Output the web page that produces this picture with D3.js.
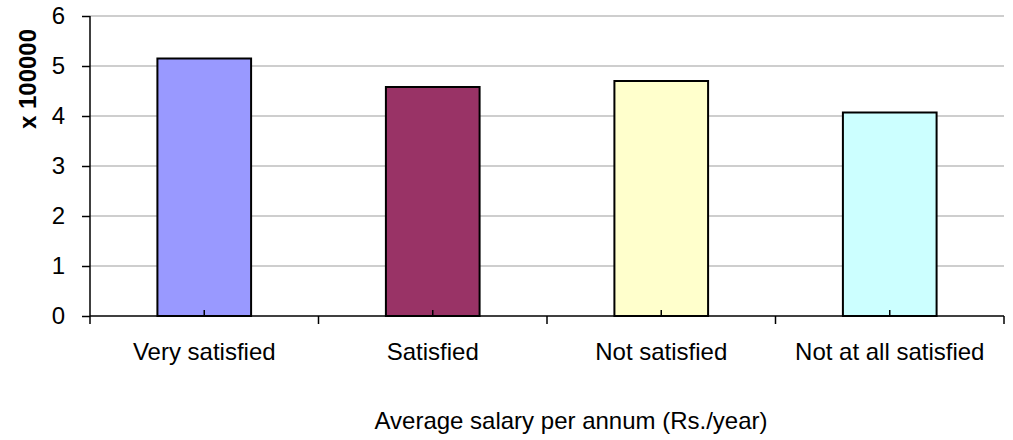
<html>
<head>
  <script src="https://d3js.org/d3.v7.min.js"></script>
  <style>
    body { margin: 0; background: #fff; }
    text { font-family: "Liberation Sans", Arial, sans-serif; }
  </style>
</head>
<body>
<svg id="chart"></svg>
<script type="text/javascript">
    // chart data
    var categories = ["Very satisfied", "Satisfied", "Not satisfied", "Not at all satisfied"];
    var salaries = [5.15, 4.58, 4.70, 4.07];
    var barColors = ["#9999ff", "#993366", "#ffffcc", "#ccffff"];
    var yTicks = [0, 1, 2, 3, 4, 5, 6];
    var yLabel = "x 100000";
    var xLabel = "Average salary per annum (Rs./year)";

    var w = 1013;
    var h = 440;
    var padLeft = 90, padRight = 1004, padTop = 16, padBottom = 316;
    var fontSize = "24px";

    var svg = d3.select("#chart")
        .attr("width", w)
        .attr("height", h);

    var xScale = d3.scaleBand()
        .domain(categories)
        .range([padLeft, padRight])
        .padding(0);

    var yScale = d3.scaleLinear()
        .domain([0, 6])
        .range([padBottom, padTop]);

    // gridlines
    svg.append("g")
        .selectAll("line")
        .data(yTicks.filter(function (d) { return d > 0; }))
        .enter()
        .append("line")
        .attr("x1", padLeft)
        .attr("x2", padRight)
        .attr("y1", function (d) { return yScale(d); })
        .attr("y2", function (d) { return yScale(d); })
        .attr("stroke", "#bebebe")
        .attr("stroke-width", 1.5);

    // bars
    var barW = xScale.bandwidth() * 0.41;
    svg.append("g")
        .selectAll("rect")
        .data(salaries)
        .enter()
        .append("rect")
        .attr("x", function (d, i) { return xScale(categories[i]) + (xScale.bandwidth() - barW) / 2; })
        .attr("y", function (d) { return yScale(d); })
        .attr("width", barW)
        .attr("height", function (d) { return yScale(0) - yScale(d); })
        .attr("fill", function (d, i) { return barColors[i]; })
        .attr("stroke", "#000")
        .attr("stroke-width", 2);

    // Y axis
    var yAxis = d3.axisLeft(yScale)
        .tickValues(yTicks)
        .tickFormat(d3.format("d"))
        .tickSize(8)
        .tickPadding(17)
        .tickSizeOuter(0);
    var gy = svg.append("g")
        .attr("transform", "translate(" + padLeft + ",0)")
        .call(yAxis);
    gy.select(".domain").remove();
    gy.selectAll("text").attr("font-size", fontSize).attr("font-family", "Liberation Sans, Arial, sans-serif").attr("fill", "#000");
    gy.selectAll("line").attr("stroke", "#000").attr("stroke-width", 1.5);

    // X axis with inner ticks at category centres
    var xAxis = d3.axisBottom(xScale)
        .tickSize(-6)
        .tickSizeOuter(0)
        .tickPadding(27);
    var gx = svg.append("g")
        .attr("transform", "translate(0," + padBottom + ")")
        .call(xAxis);
    gx.select(".domain").remove();
    gx.selectAll("text").attr("font-size", fontSize).attr("font-family", "Liberation Sans, Arial, sans-serif").attr("fill", "#000");
    gx.selectAll("line").attr("stroke", "#000").attr("stroke-width", 1.5);

    // boundary ticks between categories
    var bounds = categories.map(function (c) { return xScale(c); }).concat([padRight]);
    svg.append("g")
        .selectAll("line")
        .data(bounds)
        .enter()
        .append("line")
        .attr("x1", function (d) { return d; })
        .attr("x2", function (d) { return d; })
        .attr("y1", padBottom)
        .attr("y2", padBottom + 8)
        .attr("stroke", "#000")
        .attr("stroke-width", 1.5);

    // axis lines
    svg.append("line")
        .attr("x1", padLeft).attr("x2", padLeft)
        .attr("y1", padTop).attr("y2", padBottom)
        .attr("stroke", "#000").attr("stroke-width", 1.5);
    svg.append("line")
        .attr("x1", padLeft).attr("x2", padRight)
        .attr("y1", padBottom).attr("y2", padBottom)
        .attr("stroke", "#000").attr("stroke-width", 1.5);

    // axis titles
    svg.append("text")
        .attr("text-anchor", "middle")
        .attr("transform", "translate(36,79)rotate(-90)")
        .text(yLabel)
        .style("font-weight", "bold")
        .attr("font-size", fontSize);

    svg.append("text")
        .attr("text-anchor", "middle")
        .attr("x", 571)
        .attr("y", 429)
        .text(xLabel)
        .attr("font-size", fontSize);
</script>
</body>
</html>
